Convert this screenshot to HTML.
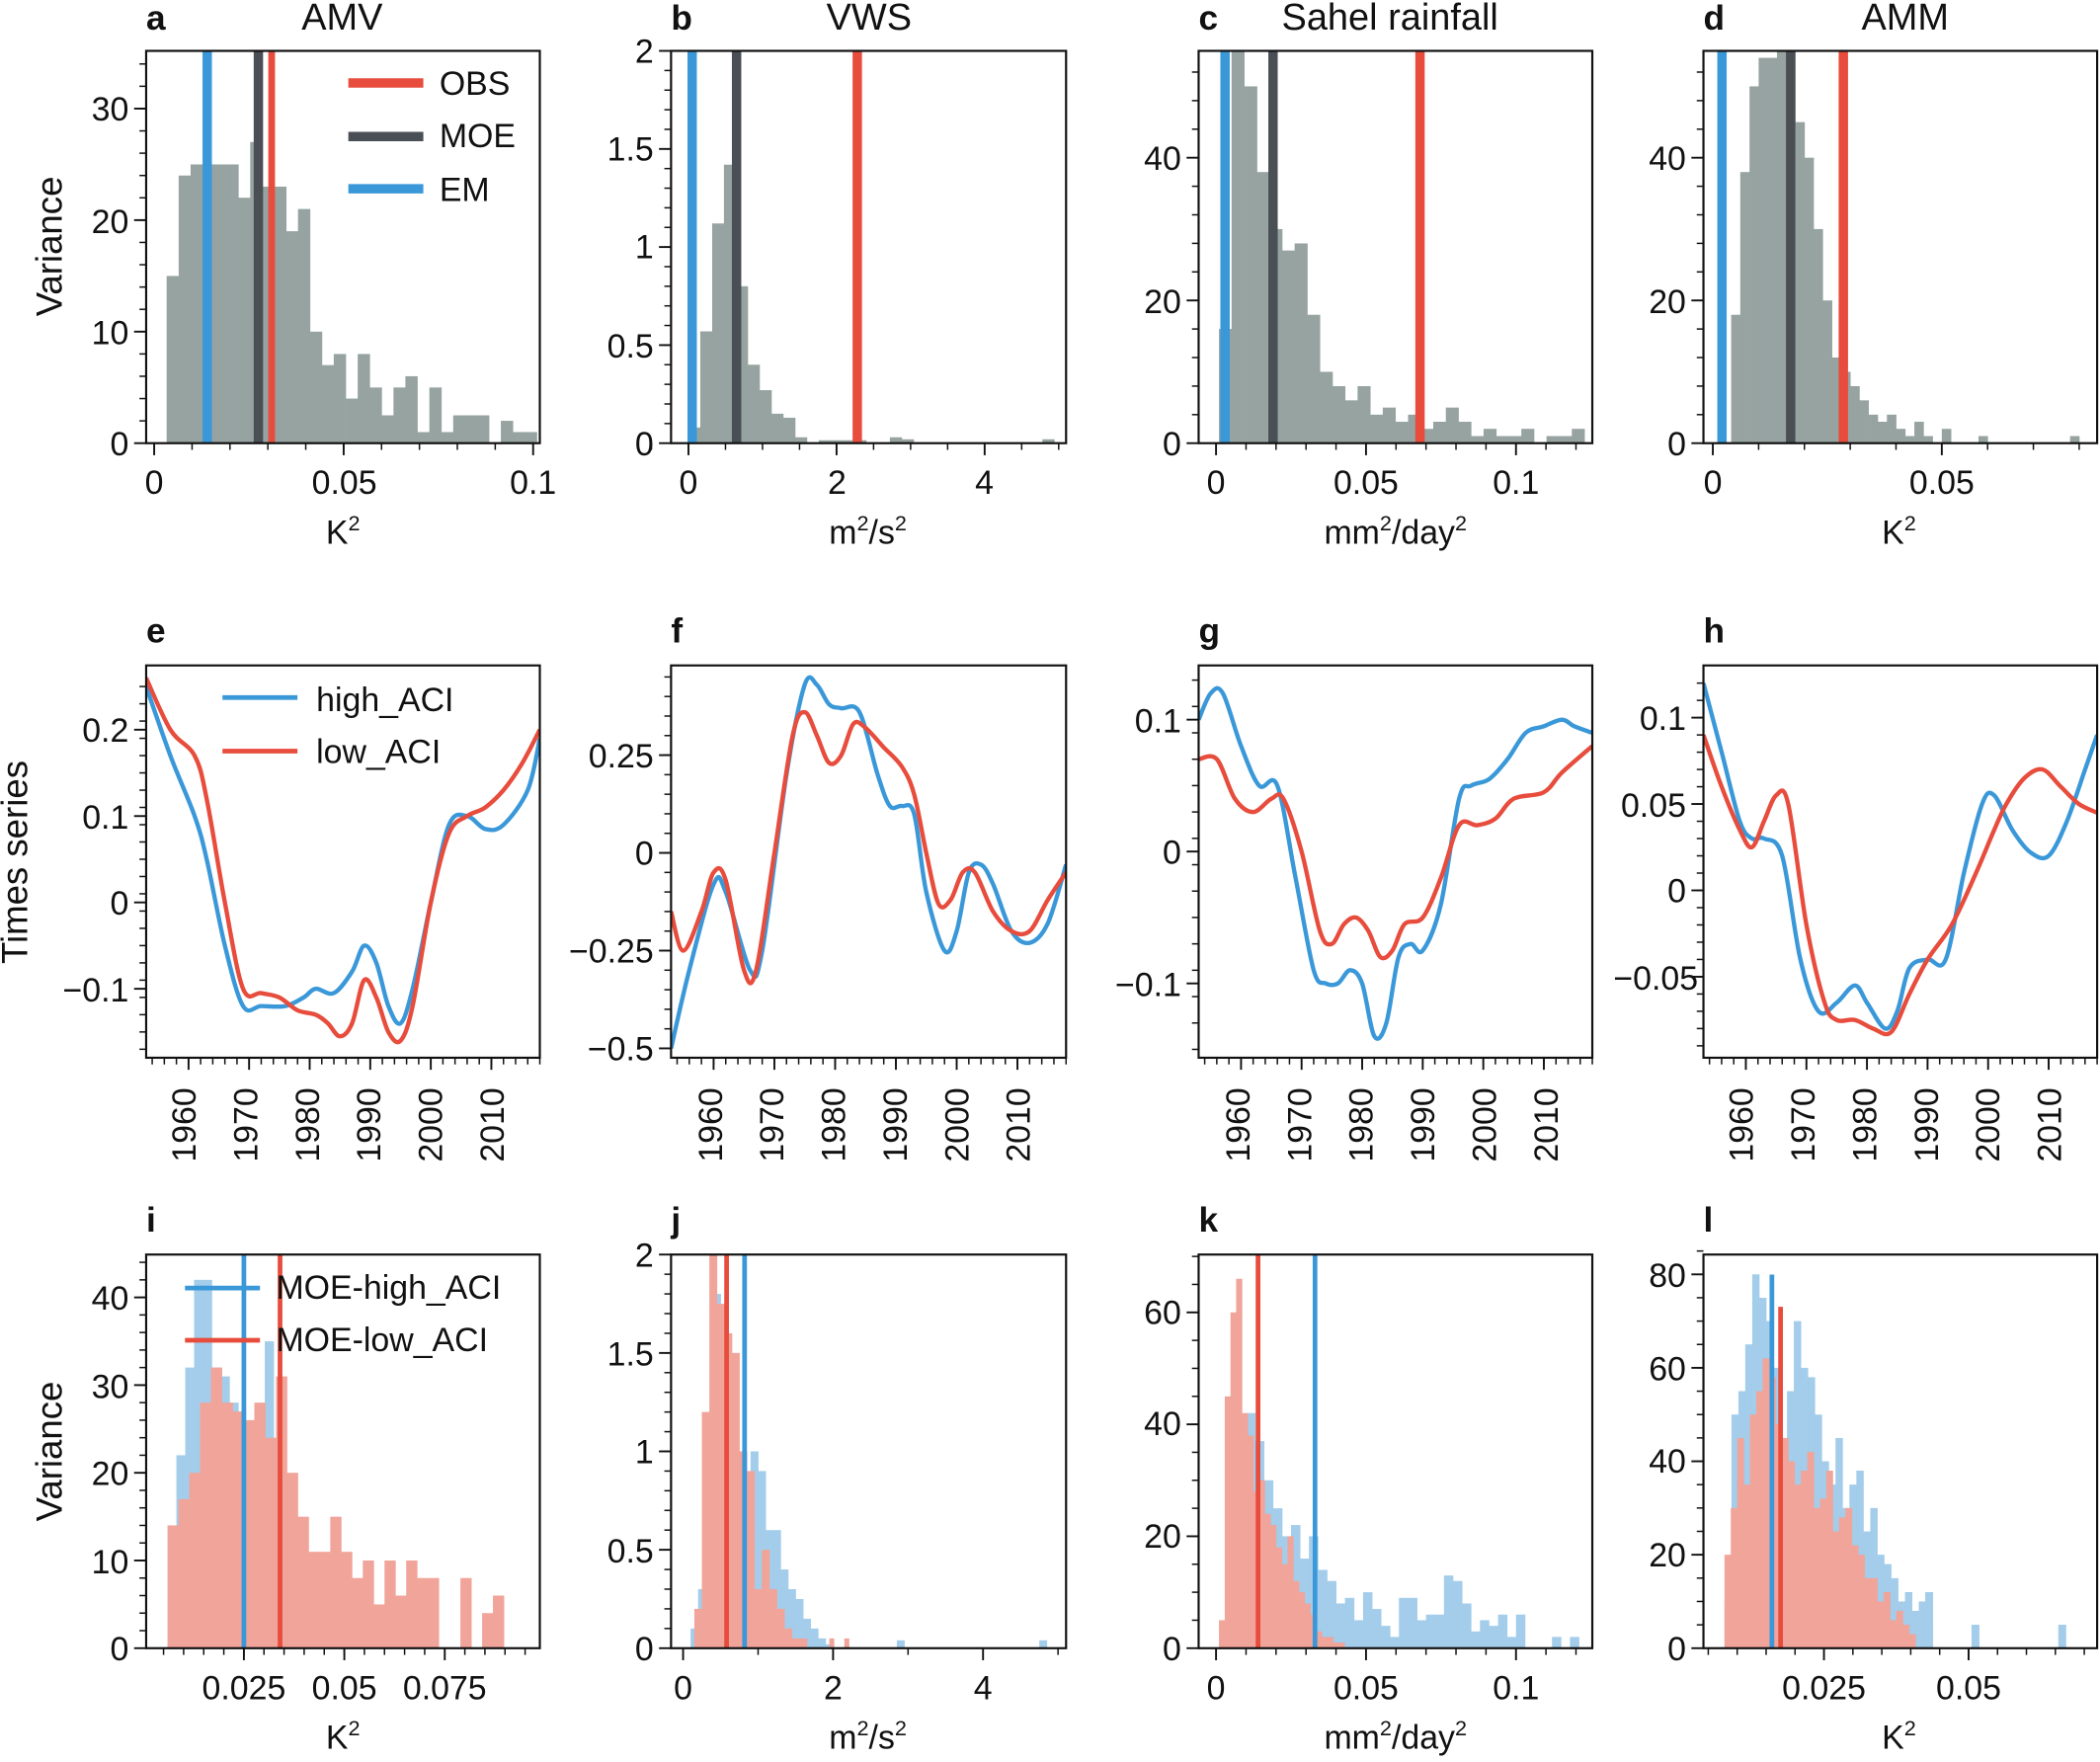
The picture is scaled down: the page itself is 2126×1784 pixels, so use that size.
<!DOCTYPE html>
<html><head><meta charset="utf-8"><style>
html,body{margin:0;padding:0;background:#fff}
svg{display:block}
text{font-family:"Liberation Sans",Arial,sans-serif;fill:#111}
.t{font-size:25px}
.b{font-size:26px;font-weight:bold}
.h{font-size:28px}
</style></head><body>
<svg width="2126" height="1784" viewBox="0 0 1568 1316" xmlns="http://www.w3.org/2000/svg">
<g id="g"></g>
<g class="t">
<text x="109" y="22" class="b">a</text><text x="225" y="22" class="h">AMV</text>
<text x="501" y="22" class="b">b</text><text x="617" y="22" class="h">VWS</text>
<text x="895" y="22" class="b">c</text><text x="957" y="22" class="h">Sahel rainfall</text>
<text x="1272" y="22" class="b">d</text><text x="1390" y="22" class="h">AMM</text>
<text x="109" y="480" class="b">e</text><text x="501" y="480" class="b">f</text><text x="895" y="480" class="b">g</text><text x="1272" y="480" class="b">h</text>
<text x="109" y="920" class="b">i</text><text x="501" y="920" class="b">j</text><text x="895" y="920" class="b">k</text><text x="1272" y="920" class="b">l</text>
<text transform="translate(46,184) rotate(-90)" text-anchor="middle" font-size="27">Variance</text>
<text transform="translate(20,644) rotate(-90)" text-anchor="middle" font-size="27">Times series</text>
<text transform="translate(46,1084) rotate(-90)" text-anchor="middle" font-size="27">Variance</text>
<g text-anchor="end">
<text x="96" y="340">0</text><text x="96" y="257">10</text><text x="96" y="174">20</text><text x="96" y="90">30</text>
<text x="488" y="340">0</text><text x="488" y="267">0.5</text><text x="488" y="193">1</text><text x="488" y="120">1.5</text><text x="488" y="47">2</text>
<text x="882" y="340">0</text><text x="882" y="234">20</text><text x="882" y="127">40</text>
<text x="1259" y="340">0</text><text x="1259" y="234">20</text><text x="1259" y="127">40</text>
</g>
<g text-anchor="middle">
<text x="115" y="369">0</text><text x="257" y="369">0.05</text><text x="398" y="369">0.1</text>
<text x="514" y="369">0</text><text x="625" y="369">2</text><text x="735" y="369">4</text>
<text x="908" y="369">0</text><text x="1020" y="369">0.05</text><text x="1132" y="369">0.1</text>
<text x="1279" y="369">0</text><text x="1450" y="369">0.05</text>
<text x="256" y="406">K<tspan font-size="16" dy="-10">2</tspan></text>
<text x="648" y="406">m<tspan font-size="16" dy="-10">2</tspan><tspan dy="10">/s</tspan><tspan font-size="16" dy="-10">2</tspan></text>
<text x="1042" y="406">mm<tspan font-size="16" dy="-10">2</tspan><tspan dy="10">/day</tspan><tspan font-size="16" dy="-10">2</tspan></text>
<text x="1418" y="406">K<tspan font-size="16" dy="-10">2</tspan></text>
</g>
<text x="328" y="71">OBS</text><text x="328" y="110">MOE</text><text x="328" y="150">EM</text>
<g text-anchor="end">
<text x="96" y="554">0.2</text><text x="96" y="619">0.1</text><text x="96" y="683">0</text><text x="96" y="748">−0.1</text>
<text x="488" y="573">0.25</text><text x="488" y="646">0</text><text x="488" y="719">−0.25</text><text x="488" y="792">−0.5</text>
<text x="882" y="547">0.1</text><text x="882" y="645">0</text><text x="882" y="744">−0.1</text>
<text x="1259" y="545">0.1</text><text x="1259" y="610">0.05</text><text x="1259" y="674">0</text><text x="1268" y="739">−0.05</text>
</g>
<text x="236" y="531">high_ACI</text><text x="236" y="570">low_ACI</text>
<g text-anchor="end">
<text x="96" y="1240">0</text><text x="96" y="1175">10</text><text x="96" y="1109">20</text><text x="96" y="1044">30</text><text x="96" y="978">40</text>
<text x="488" y="1240">0</text><text x="488" y="1167">0.5</text><text x="488" y="1093">1</text><text x="488" y="1020">1.5</text><text x="488" y="946">2</text>
<text x="882" y="1240">0</text><text x="882" y="1156">20</text><text x="882" y="1072">40</text><text x="882" y="989">60</text>
<text x="1259" y="1240">0</text><text x="1259" y="1170">20</text><text x="1259" y="1100">40</text><text x="1259" y="1031">60</text><text x="1259" y="961">80</text>
</g>
<g text-anchor="middle">
<text x="182" y="1269">0.025</text><text x="257" y="1269">0.05</text><text x="332" y="1269">0.075</text>
<text x="510" y="1269">0</text><text x="622" y="1269">2</text><text x="734" y="1269">4</text>
<text x="908" y="1269">0</text><text x="1020" y="1269">0.05</text><text x="1132" y="1269">0.1</text>
<text x="1362" y="1269">0.025</text><text x="1470" y="1269">0.05</text>
<text x="256" y="1306">K<tspan font-size="16" dy="-10">2</tspan></text>
<text x="648" y="1306">m<tspan font-size="16" dy="-10">2</tspan><tspan dy="10">/s</tspan><tspan font-size="16" dy="-10">2</tspan></text>
<text x="1042" y="1306">mm<tspan font-size="16" dy="-10">2</tspan><tspan dy="10">/day</tspan><tspan font-size="16" dy="-10">2</tspan></text>
<text x="1418" y="1306">K<tspan font-size="16" dy="-10">2</tspan></text>
</g>
<text x="206" y="970">MOE-high_ACI</text><text x="206" y="1009">MOE-low_ACI</text>
</g>
<g class="t">
<g transform="translate(0,0)"><text transform="translate(146,868) rotate(-90)">1960</text><text transform="translate(192,868) rotate(-90)">1970</text><text transform="translate(238,868) rotate(-90)">1980</text><text transform="translate(284,868) rotate(-90)">1990</text><text transform="translate(330,868) rotate(-90)">2000</text><text transform="translate(376,868) rotate(-90)">2010</text></g>
<g transform="translate(393,0)"><text transform="translate(146,868) rotate(-90)">1960</text><text transform="translate(192,868) rotate(-90)">1970</text><text transform="translate(238,868) rotate(-90)">1980</text><text transform="translate(284,868) rotate(-90)">1990</text><text transform="translate(330,868) rotate(-90)">2000</text><text transform="translate(376,868) rotate(-90)">2010</text></g>
<g transform="translate(787,0)"><text transform="translate(146,868) rotate(-90)">1960</text><text transform="translate(192,868) rotate(-90)">1970</text><text transform="translate(238,868) rotate(-90)">1980</text><text transform="translate(284,868) rotate(-90)">1990</text><text transform="translate(330,868) rotate(-90)">2000</text><text transform="translate(376,868) rotate(-90)">2010</text></g>
<g transform="translate(1163,0)"><text transform="translate(146,868) rotate(-90)">1960</text><text transform="translate(192,868) rotate(-90)">1970</text><text transform="translate(238,868) rotate(-90)">1980</text><text transform="translate(284,868) rotate(-90)">1990</text><text transform="translate(330,868) rotate(-90)">2000</text><text transform="translate(376,868) rotate(-90)">2010</text></g>
</g>
</svg>
<script>
var o='',cid=0;
var GR='#96a3a1',RD='#e74c3c',DK='#4a4e55',BL='#3a98d9',LB='#a3cdea',PK='#f1a49a';
function P(L,R,T,B,xv,xp,sx,yp,sy){cid++;o+='<clipPath id="c'+cid+'"><rect x="'+L+'" y="'+T+'" width="'+(R-L)+'" height="'+(B-T)+'"/></clipPath>';return{id:cid,L:L,R:R,T:T,B:B,X:function(v){return xp+(v-xv)*sx},Y:function(v){return yp-v*sy}};}
function hist(p,st,w,h,c,op){o+='<g clip-path="url(#c'+p.id+')">';for(var i=0;i<h.length;i++){if(!h[i])continue;var x1=p.X(st+i*w),x2=p.X(st+(i+1)*w);o+='<rect x="'+x1.toFixed(1)+'" y="'+p.Y(h[i]).toFixed(1)+'" width="'+(x2-x1+0.3).toFixed(1)+'" height="'+(p.B-p.Y(h[i])).toFixed(1)+'" fill="'+c+'"'+(op?' opacity="'+op+'"':'')+'/>';}o+='</g>';}
function vl(p,v,c,w,top){var x=p.X(v);o+='<line x1="'+x+'" x2="'+x+'" y1="'+(top||p.T)+'" y2="'+p.B+'" stroke="'+c+'" stroke-width="'+w+'"/>';}
function frame(p,xt,xm,yt,ym){o+='<rect x="'+p.L+'" y="'+p.T+'" width="'+(p.R-p.L)+'" height="'+(p.B-p.T)+'" fill="none" stroke="#111" stroke-width="1.6"/>';
xt.forEach(function(v){var x=p.X(v);o+='<line x1="'+x+'" x2="'+x+'" y1="'+p.B+'" y2="'+(p.B+9)+'" stroke="#111" stroke-width="1.4"/>'});
xm.forEach(function(v){var x=p.X(v);o+='<line x1="'+x+'" x2="'+x+'" y1="'+p.B+'" y2="'+(p.B+5)+'" stroke="#111" stroke-width="1.1"/>'});
yt.forEach(function(v){var y=p.Y(v);o+='<line y1="'+y+'" y2="'+y+'" x1="'+p.L+'" x2="'+(p.L-9)+'" stroke="#111" stroke-width="1.4"/>'});
ym.forEach(function(v){var y=p.Y(v);o+='<line y1="'+y+'" y2="'+y+'" x1="'+p.L+'" x2="'+(p.L-5)+'" stroke="#111" stroke-width="1.1"/>'});}
function rng(a,b,s){var r=[];for(var v=a;v<=b+1e-9;v+=s)r.push(+v.toFixed(6));return r;}
function curve(p,pts,c){var q=pts.map(function(d){return [p.X(d[0]),p.Y(d[1])]});var s='M'+q[0][0]+','+q[0][1];
for(var i=0;i<q.length-1;i++){var p0=q[i-1]||q[i],p1=q[i],p2=q[i+1],p3=q[i+2]||p2;
s+=' C'+(p1[0]+(p2[0]-p0[0])/6).toFixed(1)+','+(p1[1]+(p2[1]-p0[1])/6).toFixed(1)+' '+(p2[0]-(p3[0]-p1[0])/6).toFixed(1)+','+(p2[1]-(p3[1]-p1[1])/6).toFixed(1)+' '+p2[0].toFixed(1)+','+p2[1].toFixed(1);}
o+='<path d="'+s+'" fill="none" stroke="'+c+'" stroke-width="3.2" clip-path="url(#c'+p.id+')"/>';}
var a=P(109,403,38,331,0,115,2830,331,8.33);
hist(a,0.0033,0.00315,[15,24,25,25,25,25,22,27,23,23,19,21,10,7,8,4,8,5,2.5,5,6,1,5,1,2.5,2.5,2.5,0,2,1,1],GR);
vl(a,0.014,BL,7);vl(a,0.0275,DK,7);vl(a,0.031,RD,5);
frame(a,[0,0.05,0.1],rng(0.01,0.09,0.01),[0,10,20,30],rng(2,34,2));
o+='<line x1="260" x2="316" y1="62" y2="62" stroke="'+RD+'" stroke-width="7"/><line x1="260" x2="316" y1="102" y2="102" stroke="'+DK+'" stroke-width="7"/><line x1="260" x2="316" y1="141" y2="141" stroke="'+BL+'" stroke-width="7"/>';
var b=P(501,796,38,331,0,514,55.3,331,146.5);
hist(b,0,0.16,[0.08,0.57,1.12,1.42,0.8,0.4,0.27,0.15,0.13,0.03,0,0.015,0.015,0.015,0.015,0,0,0.03,0.02],GR);
hist(b,4.78,0.16,[0.02],GR);
vl(b,0.05,BL,7);vl(b,0.65,DK,7);vl(b,2.28,RD,7);
frame(b,[0,2,4],rng(-0.5,5,0.5).filter(function(v){return v%2}),[0,0.5,1,1.5,2],rng(0.1,1.9,0.1));
var c=P(895,1189,38,331,0,908,2240,331,5.33);
hist(c,0.001,0.0042,[16,55,50,38,30,27,28,18,10,8,6,8,4,5,3,4,2,3,5,3,1,2,1,1,2,0,1,1,2],GR);
vl(c,0.003,BL,7);vl(c,0.019,DK,7);vl(c,0.068,RD,7);
frame(c,[0,0.05,0.1],rng(0.01,0.12,0.01).filter(function(v){return Math.abs(v-0.05)>1e-6&&Math.abs(v-0.1)>1e-6}),[0,20,40],rng(4,52,4));
var d=P(1272,1566,38,331,0,1279,3420,331,5.33);
hist(d,0.004,0.002,[18,38,50,54,54,56,55,45,40,30,20,12,10,8,6,4,3,4,2,1,3,1,0,2,0,0,0,1,0,0,0,0,0,0,0,0,0,1],GR);
vl(d,0.002,BL,7);vl(d,0.017,DK,7);vl(d,0.0285,RD,7);
frame(d,[0,0.05],rng(0.01,0.08,0.01).filter(function(v){return Math.abs(v-0.05)>1e-6}),[0,20,40],rng(4,52,4));
var yrT=[1960,1970,1980,1990,2000,2010],yrM=rng(1954,2018,2);
function tp(L,R,yp,sy){return P(L,R,497,790,1953,L,(R-L)/65,yp,sy);}
var e=tp(109,403,674,645);
curve(e,[[1953,.25],[1957,.17],[1961,.1],[1963,.05],[1966,-.05],[1969,-.12],[1972,-.12],[1976,-.12],[1979,-.11],[1981,-.1],[1984,-.105],[1987,-.08],[1989,-.05],[1991,-.07],[1993,-.12],[1995,-.14],[1997,-.1],[2000,0],[2003,.09],[2006,.1],[2009,.085],[2012,.09],[2016,.13],[2018,.19]],BL);
curve(e,[[1953,.26],[1957,.2],[1961,.17],[1963,.12],[1966,0],[1969,-.1],[1972,-.105],[1975,-.11],[1978,-.125],[1981,-.13],[1983,-.14],[1985,-.155],[1987,-.14],[1989,-.09],[1991,-.11],[1993,-.15],[1995,-.16],[1997,-.12],[2000,0],[2003,.08],[2006,.1],[2009,.11],[2012,.13],[2015,.16],[2018,.2]],RD);
frame(e,yrT,yrM,[-0.1,0,0.1,0.2],rng(-0.17,0.25,0.02));
o+='<line x1="166" x2="222" y1="521" y2="521" stroke="'+BL+'" stroke-width="3.5"/><line x1="166" x2="222" y1="561" y2="561" stroke="'+RD+'" stroke-width="3.5"/>';
var f=tp(501,796,637,292);
curve(f,[[1953,-.5],[1956,-.3],[1960,-.08],[1962,-.1],[1966,-.3],[1968,-.25],[1972,.2],[1975,.43],[1977,.43],[1979,.38],[1981,.37],[1984,.36],[1987,.2],[1989,.12],[1991,.12],[1993,.1],[1995,-.1],[1998,-.25],[2000,-.2],[2002,-.05],[2004,-.03],[2006,-.08],[2009,-.2],[2012,-.23],[2015,-.18],[2018,-.03]],BL);
curve(f,[[1953,-.15],[1955,-.25],[1958,-.15],[1960,-.05],[1962,-.07],[1965,-.3],[1967,-.3],[1970,0],[1973,.3],[1975,.36],[1977,.3],[1979,.23],[1981,.25],[1983,.33],[1985,.32],[1988,.27],[1991,.22],[1993,.15],[1995,0],[1997,-.13],[1999,-.12],[2001,-.05],[2003,-.05],[2006,-.15],[2009,-.2],[2012,-.2],[2015,-.12],[2018,-.05]],RD);
frame(f,yrT,yrM,[-0.5,-0.25,0,0.25],rng(-0.45,0.45,0.05));
var g=tp(895,1189,636,985);
curve(g,[[1953,.1],[1955,.12],[1957,.12],[1960,.08],[1963,.05],[1966,.05],[1969,-.02],[1972,-.09],[1974,-.1],[1976,-.1],[1978,-.09],[1980,-.1],[1982,-.14],[1984,-.13],[1986,-.08],[1988,-.07],[1990,-.075],[1993,-.04],[1996,.04],[1998,.05],[2001,.055],[2004,.07],[2007,.09],[2010,.095],[2013,.1],[2015,.095],[2018,.09]],BL);
curve(g,[[1953,.07],[1956,.07],[1959,.04],[1962,.03],[1965,.04],[1967,.04],[1970,0],[1973,-.06],[1975,-.07],[1977,-.055],[1979,-.05],[1981,-.06],[1983,-.08],[1985,-.075],[1987,-.055],[1990,-.05],[1993,-.02],[1996,.02],[1999,.02],[2002,.025],[2005,.04],[2010,.045],[2013,.06],[2018,.08]],RD);
frame(g,yrT,yrM,[-0.1,0,0.1],rng(-0.15,0.13,0.02));
var h=tp(1272,1566,665,1290);
curve(h,[[1953,.12],[1956,.08],[1959,.04],[1961,.03],[1963,.03],[1966,.02],[1969,-.04],[1972,-.07],[1975,-.065],[1978,-.055],[1980,-.065],[1983,-.08],[1985,-.07],[1987,-.045],[1990,-.04],[1993,-.04],[1996,.01],[1999,.05],[2001,.055],[2004,.035],[2007,.022],[2010,.02],[2013,.04],[2016,.07],[2018,.09]],BL);
curve(h,[[1953,.09],[1956,.06],[1959,.035],[1961,.025],[1963,.04],[1965,.055],[1967,.05],[1970,-.02],[1973,-.065],[1975,-.075],[1978,-.075],[1981,-.08],[1984,-.082],[1987,-.06],[1990,-.04],[1994,-.02],[1998,.01],[2001,.035],[2003,.05],[2006,.065],[2009,.07],[2012,.06],[2015,.05],[2018,.045]],RD);
frame(h,yrT,yrM,[-0.05,0,0.05,0.1],rng(-0.09,0.12,0.01));
var i3=P(109,403,937,1231,0,107,3000,1231,6.55);
hist(i3,0.006,0.0022,[14,22,32,42,42,32,31,28,22,20,25,35,20,18,13,10,8,10,6,4,6,3,2,1],LB);
hist(i3,0.006,0.0027,[14,17,20,28,32,28,27,26,28,24,31,20,15,11,11,15,11,8,10,5,10,6,10,8,8,0,0,8,0,4,6],PK);
vl(i3,0.025,BL,3.5);vl(i3,0.034,RD,3.5);
frame(i3,[0.025,0.05,0.075],rng(0.005,0.095,0.005),[0,10,20,30,40],rng(2,44,2));
o+='<line x1="138" x2="194" y1="962" y2="962" stroke="'+BL+'" stroke-width="3.5"/><line x1="138" x2="194" y1="1001" y2="1001" stroke="'+RD+'" stroke-width="3.5"/>';
var j=P(501,796,937,1231,0,510,56,1231,147);
hist(j,0.1,0.1,[0.1,0.3,1.2,1.8,1.6,1.4,1.0,0.8,1.0,0.9,0.6,0.6,0.4,0.3,0.25,0.15,0.1,0.05,0.02],LB);
hist(j,2.85,0.1,[0.04],LB);hist(j,4.75,0.1,[0.04],LB);
hist(j,0.15,0.1,[0.2,1.2,2.0,1.75,1.6,1.5,1.0,0.9,0.3,0.5,0.3,0.2,0.1,0.05,0.05],PK);
hist(j,1.95,0.06,[0.05],PK);hist(j,2.15,0.06,[0.05],PK);
vl(j,0.82,BL,3.5);vl(j,0.58,RD,3.5);
frame(j,[0,2,4],[1,3,5],[0,0.5,1,1.5,2],rng(0.1,1.9,0.1));
var k=P(895,1189,937,1231,0,908,2240,1231,4.18);
hist(k,0.001,0.003,[2,18,35,42,37,30,25,20,22,16,20,14,12,8,9,5,10,7,4,2,9,9,5,6,6,13,12,8,3,5,4,6,2,6,0,0,0,2,0,2],LB);
hist(k,0.001,0.0019,[5,45,60,66,42,38,28,30,24,22,18,15,20,12,10,8,6,3,2,2,1,1],PK);
vl(k,0.014,RD,3.5);vl(k,0.033,BL,3.5);
frame(k,[0,0.05,0.1],rng(0.01,0.12,0.01).filter(function(v){return Math.abs(v-0.05)>1e-6&&Math.abs(v-0.1)>1e-6}),[0,20,40,60],rng(5,70,5));
var l=P(1272,1566,937,1231,0,1254,4320,1231,3.49);
hist(l,0.0078,0.0012,[10,50,55,65,80,75,70,60,45,55,70,60,58,50,40,35,45,30,35,38,25,30,20,18,15,10,12,8,10,5],LB);
hist(l,0.0425,0.0013,[12],LB);hist(l,0.0505,0.0013,[5],LB);hist(l,0.0655,0.0013,[5],LB);
hist(l,0.0078,0.0011,[20,30,45,35,50,55,62,58,48,45,40,35,38,42,30,32,38,25,28,30,22,20,15,15,10,12,6,8,5,3],PK);
vl(l,0.016,BL,3.5,952);vl(l,0.0175,RD,3.5,976);
frame(l,[0.025,0.05],rng(0.005,0.07,0.005).filter(function(v){return Math.abs(v-0.025)>1e-6&&Math.abs(v-0.05)>1e-6}),[0,20,40,60,80],rng(5,85,5));
document.getElementById('g').innerHTML=o;
</script>
</body></html>
